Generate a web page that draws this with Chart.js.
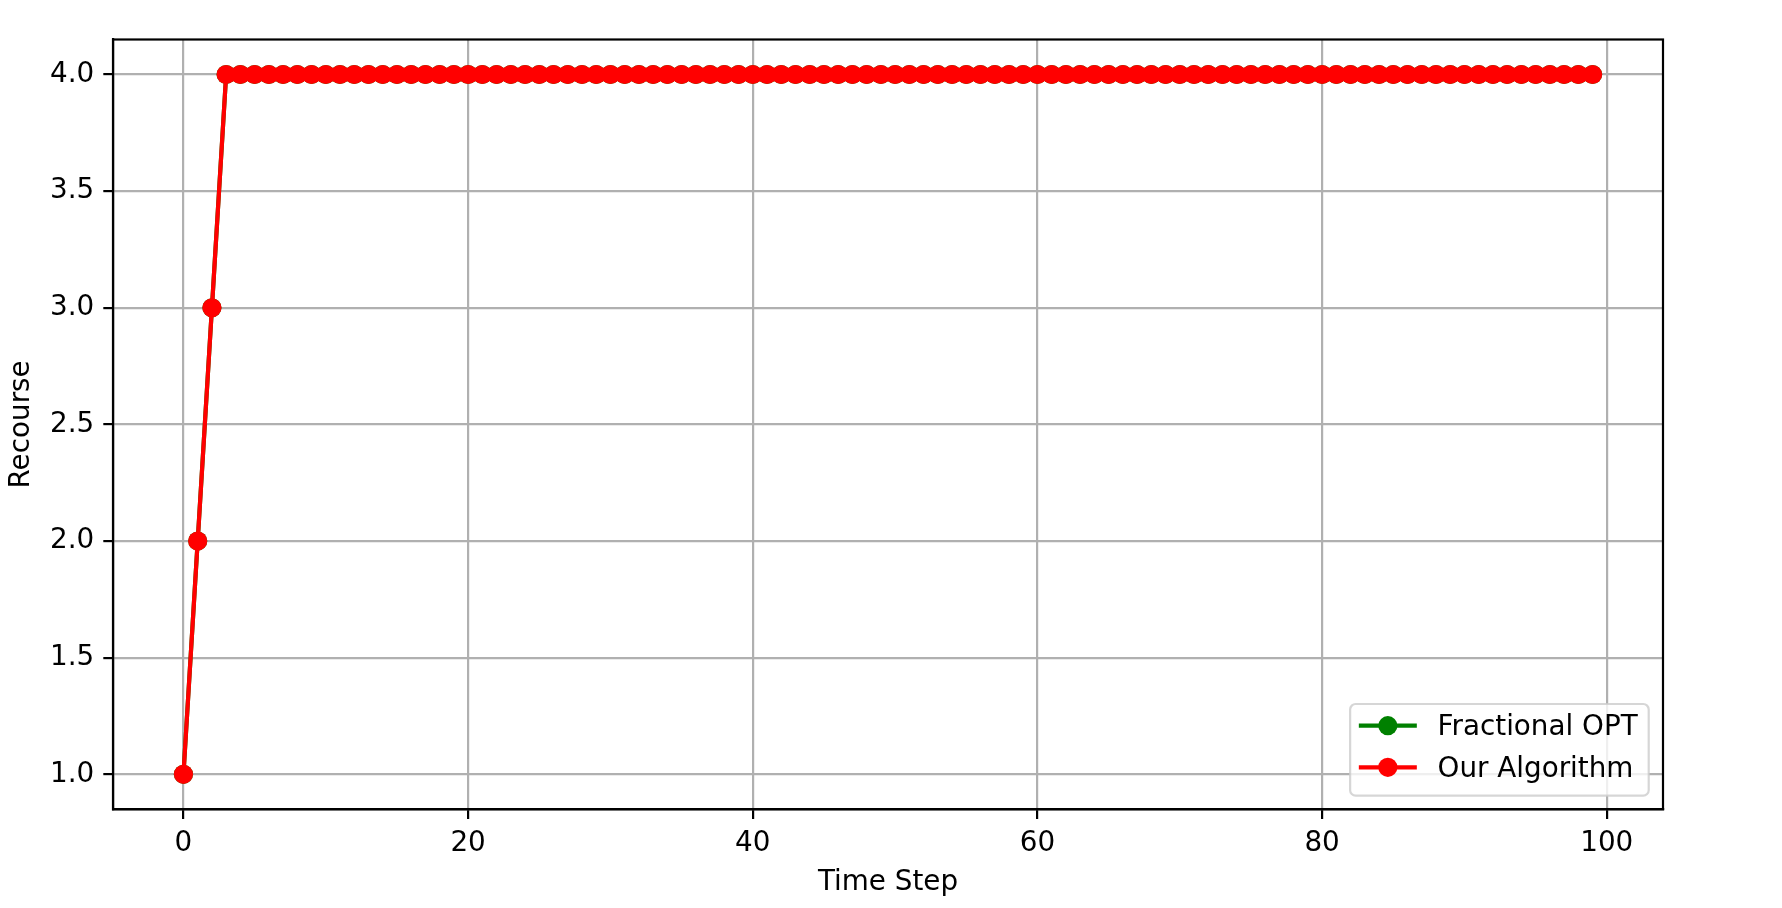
<!DOCTYPE html>
<html>
<head>
<meta charset="utf-8">
<title>Recourse over time</title>
<script src="https://cdn.jsdelivr.net/npm/chart.js@4.4.1/dist/chart.umd.min.js"></script>
<style>
    html, body { margin: 0; padding: 0; background: #fff; }
    #wrap { width: 1782px; height: 908px; }
</style>
</head>
<body>
<div id="wrap"><canvas id="recourse-chart" width="1782" height="908"></canvas></div>
<script>
// Data
const timeSteps = Array.from({ length: 100 }, (_, i) => i);
const ourAlgorithm = [1, 2, 3, 4, 4, 4, 4, 4, 4, 4,
    4, 4, 4, 4, 4, 4, 4, 4, 4, 4,
    4, 4, 4, 4, 4, 4, 4, 4, 4, 4,
    4, 4, 4, 4, 4, 4, 4, 4, 4, 4,
    4, 4, 4, 4, 4, 4, 4, 4, 4, 4,
    4, 4, 4, 4, 4, 4, 4, 4, 4, 4,
    4, 4, 4, 4, 4, 4, 4, 4, 4, 4,
    4, 4, 4, 4, 4, 4, 4, 4, 4, 4,
    4, 4, 4, 4, 4, 4, 4, 4, 4, 4,
    4, 4, 4, 4, 4, 4, 4, 4, 4, 4];
// hidden under the red line in the picture, so same values
const fractionalOpt = ourAlgorithm.slice();
const xTicks = [0, 20, 40, 60, 80, 100];
const yTicks = [1.0, 1.5, 2.0, 2.5, 3.0, 3.5, 4.0];

const FONT = 'DejaVu Sans';
const FS = 27.8;
const LW = 2.2;

function toPoints(ys) {
    return ys.map((y, i) => ({ x: timeSteps[i], y: y }));
}

// frame around the plot + legend in lower right (matplotlib-like)
const framePlugin = {
    id: 'frameAndLegend',
    afterDatasetsDraw(chart) {
        const ctx = chart.ctx;
        const a = chart.chartArea;
        ctx.save();
        ctx.strokeStyle = '#000';
        ctx.lineWidth = LW;
        ctx.strokeRect(a.left, a.top, a.right - a.left, a.bottom - a.top);

        // legend
        ctx.font = FS + 'px "' + FONT + '"';
        const items = chart.data.datasets;
        let maxW = 0;
        items.forEach(d => { maxW = Math.max(maxW, ctx.measureText(d.label).width); });
        const padL = 8.7, handleW = 58, gap = 20.7, padR = 11, rowH = 41.6;
        const boxW = padL + handleW + gap + maxW + padR;
        const boxH = 91.7;
        const right = a.right - 14.3;
        const bottom = a.bottom - 13.6;
        const left = right - boxW;
        const top = bottom - boxH;

        ctx.beginPath();
        ctx.roundRect(left, top, boxW, boxH, 5.5);
        ctx.fillStyle = 'rgba(255,255,255,0.8)';
        ctx.fill();
        ctx.strokeStyle = 'rgba(204,204,204,0.8)';
        ctx.lineWidth = LW;
        ctx.stroke();

        items.forEach((d, i) => {
            const cy = top + 21.7 + i * rowH;
            const hx = left + padL;
            ctx.strokeStyle = d.borderColor;
            ctx.lineWidth = d.borderWidth;
            ctx.beginPath();
            ctx.moveTo(hx, cy);
            ctx.lineTo(hx + handleW, cy);
            ctx.stroke();
            ctx.fillStyle = d.pointBackgroundColor;
            ctx.beginPath();
            ctx.arc(hx + handleW / 2, cy, d.pointRadius, 0, Math.PI * 2);
            ctx.fill();
            ctx.fillStyle = '#000';
            ctx.textBaseline = 'middle';
            ctx.textAlign = 'left';
            ctx.fillText(d.label, hx + handleW + gap, cy + 2);
        });
        ctx.restore();
    }
};

const ctx = document.getElementById('recourse-chart').getContext('2d');
const recourseChart = new Chart(ctx, {
    type: 'line',
    data: {
        datasets: [{
            label: 'Fractional OPT',
            data: toPoints(fractionalOpt),
            borderColor: '#008000',
            backgroundColor: '#008000',
            pointBackgroundColor: '#008000',
            pointBorderWidth: 0,
            pointRadius: 9.6,
            borderWidth: 4.2,
            tension: 0,
            order: 1
        }, {
            label: 'Our Algorithm',
            data: toPoints(ourAlgorithm),
            borderColor: '#ff0000',
            backgroundColor: '#ff0000',
            pointBackgroundColor: '#ff0000',
            pointBorderWidth: 0,
            pointRadius: 9.6,
            borderWidth: 4.2,
            tension: 0,
            order: 0
        }]
    },
    options: {
        responsive: false,
        animation: false,
        devicePixelRatio: 1,
        layout: { padding: { top: 39.5, right: 119, left: 0, bottom: 0 } },
        plugins: {
            legend: { display: false },
            tooltip: { enabled: false }
        },
        scales: {
            x: {
                type: 'linear',
                min: -4.95,
                max: 103.95,
                afterBuildTicks: (scale) => { scale.ticks = xTicks.map(v => ({ value: v })); },
                afterFit: (scale) => { scale.height = 98.7; },
                ticks: {
                    font: { family: FONT, size: FS },
                    color: '#000',
                    padding: 8,
                    maxRotation: 0,
                    callback: (v) => String(v)
                },
                grid: {
                    color: '#b0b0b0',
                    lineWidth: LW,
                    tickLength: 9.7,
                    tickColor: '#000',
                    tickWidth: LW
                },
                border: { color: '#000', width: LW },
                title: {
                    display: true,
                    text: 'Time Step',
                    font: { family: FONT, size: FS, lineHeight: 1.2 },
                    color: '#000',
                    padding: { top: 0, bottom: 9 }
                }
            },
            y: {
                type: 'linear',
                min: 0.85,
                max: 4.15,
                afterBuildTicks: (scale) => { scale.ticks = yTicks.map(v => ({ value: v })); },
                afterFit: (scale) => { scale.width = 113; },
                ticks: {
                    font: { family: FONT, size: FS },
                    color: '#000',
                    padding: 9,
                    callback: (v) => v.toFixed(1)
                },
                grid: {
                    color: '#b0b0b0',
                    lineWidth: LW,
                    tickLength: 9.7,
                    tickColor: '#000',
                    tickWidth: LW
                },
                border: { color: '#000', width: LW },
                title: {
                    display: true,
                    text: 'Recourse',
                    font: { family: FONT, size: FS, lineHeight: 1.2 },
                    color: '#000',
                    padding: { top: 5, bottom: 0 }
                }
            }
        }
    },
    plugins: [framePlugin]
});
</script>
</body>
</html>
